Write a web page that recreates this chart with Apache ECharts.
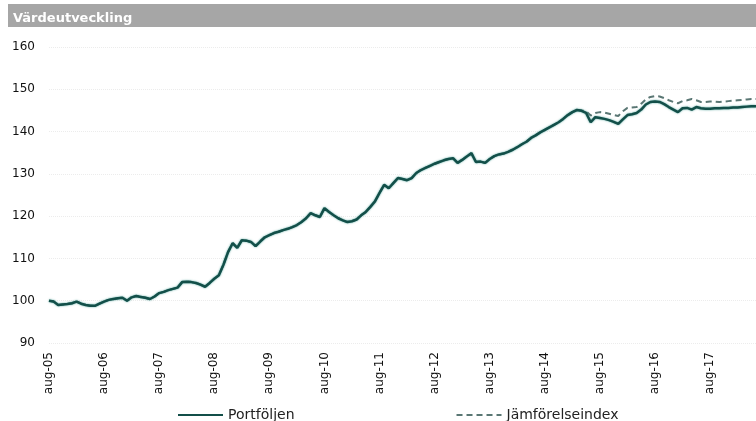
<!DOCTYPE html>
<html>
<head>
<meta charset="utf-8">
<script src="https://cdn.jsdelivr.net/npm/echarts@6/dist/echarts.min.js"></script>
<style>
    html,body{margin:0;padding:0;background:#fff;}
    #chart{width:756px;height:421px;}
</style>
</head>
<body>
<div id="chart"></div>
<script>
// månader aug-05 .. jun-18
var monthNames=['jan','feb','mar','apr','maj','jun','jul','aug','sep','okt','nov','dec'];
var months=[];
for(var i=0;i<155;i++){
    var mi=(7+i)%12;
    var yr=5+Math.floor((7+i)/12);
    months.push(monthNames[mi]+'-'+(yr<10?'0'+yr:''+yr));
}

var yTicks=[90,100,110,120,130,140,150,160];

// Portföljen, avläst månad för månad
var portfolio=[
    100.0, 99.8, 99.0, 99.1, 99.2, 99.4, 99.8, 99.3, 99.0, 98.8,
    98.8, 99.3, 99.8,100.2,100.4,100.6,100.7,100.0,100.8,101.1,
    100.9,100.7,100.4,101.0,101.8,102.1,102.5,102.8,103.1,104.4,
    104.5,104.4,104.2,103.8,103.3,104.2,105.2,106.0,108.5,111.5,
    113.6,112.5,114.3,114.2,113.9,112.9,114.0,115.0,115.5,116.0,
    116.3,116.7,117.0,117.4,117.9,118.6,119.5,120.7,120.2,119.8,
    121.9,121.0,120.2,119.5,119.0,118.6,118.8,119.2,120.2,121.0,
    122.2,123.5,125.5,127.4,126.6,127.8,129.0,128.8,128.5,129.0,
    130.2,130.9,131.4,131.9,132.4,132.8,133.2,133.5,133.7,132.6,
    133.3,134.1,134.9,132.8,132.9,132.6,133.5,134.2,134.6,134.8,
    135.2,135.7,136.3,137.0,137.6,138.5,139.1,139.8,140.4,141.0,
    141.6,142.2,143.0,143.9,144.6,145.1,144.9,144.4,142.2,143.4,
    143.2,143.0,142.7,142.3,141.8,142.9,143.9,144.1,144.4,145.2,
    146.4,147.0,147.1,147.0,146.5,145.8,145.2,144.6,145.5,145.6,
    145.2,145.8,145.5,145.4,145.4,145.5,145.5,145.6,145.6,145.7,
    145.7,145.8,145.9,146.0,146.0
];

// Jämförelseindex följer portföljen fram till 2015, därefter egna värden
var benchTail=[
    145.0,144.8,143.8,144.4,144.6,144.5,144.2,143.9,143.7,144.8,
    145.6,145.7,145.8,146.6,147.6,148.2,148.4,148.3,147.9,147.4,
    147.0,146.7,147.2,147.4,147.7,147.4,147.0,147.0,147.1,147.1,
    147.0,147.1,147.2,147.3,147.4,147.5,147.6,147.7,147.7
];
var benchmark=portfolio.slice(0,116).concat(benchTail);

var myChart=echarts.init(document.getElementById('chart'));
var option={
    animation:false,
    graphic:[
        {
            type:'rect',
            left:8,
            top:4,
            shape:{width:748,height:23},
            style:{fill:'#a6a6a6'},
            z:0
        }
    ],
    title:{
        text:'Värdeutveckling',
        left:8,
        top:7,
        textStyle:{
            color:'#fff',
            fontFamily:'DejaVu Sans',
            fontSize:13,
            fontWeight:'bold'
        }
    },
    legend:{
        data:['Portföljen','Jämförelseindex'],
        left:172,
        top:403,
        itemWidth:45,
        itemHeight:14,
        itemGap:161,
        itemStyle:{opacity:0},
        textStyle:{
            color:'#222',
            fontFamily:'DejaVu Sans',
            fontSize:14
        }
    },
    grid:{
        left:49,
        right:0,
        top:47,
        bottom:78
    },
    xAxis:{
        type:'category',
        data:months,
        boundaryGap:false,
        axisLine:{show:false},
        axisTick:{show:false},
        axisLabel:{
            interval:11,
            rotate:90,
            margin:9,
            color:'#111',
            fontFamily:'DejaVu Sans',
            fontSize:12
        },
        splitLine:{show:false}
    },
    yAxis:{
        type:'value',
        min:yTicks[0],
        max:yTicks[yTicks.length-1],
        interval:10,
        axisLine:{show:false},
        axisTick:{show:false},
        axisLabel:{
            margin:14,
            color:'#111',
            fontFamily:'DejaVu Sans',
            fontSize:12
        },
        splitLine:{
            lineStyle:{
                color:'#ececec',
                type:'dotted'
            }
        }
    },
    series:[
        {
            name:'Jämförelseindex',
            type:'line',
            data:benchmark,
            symbol:'none',
            lineStyle:{
                color:'#5a7774',
                width:2,
                type:[6,4]
            },
            itemStyle:{color:'#5a7774'}
        },
        {
            name:'Portföljen',
            type:'line',
            data:portfolio,
            symbol:'none',
            lineStyle:{
                color:'#134f49',
                width:2.5,
                shadowColor:'rgba(40,140,130,0.8)',
                shadowBlur:2
            },
            itemStyle:{color:'#134f49'}
        }
    ]
};
myChart.setOption(option);

window.addEventListener('resize',function(){
    myChart.resize();
});
</script>
</body>
</html>
